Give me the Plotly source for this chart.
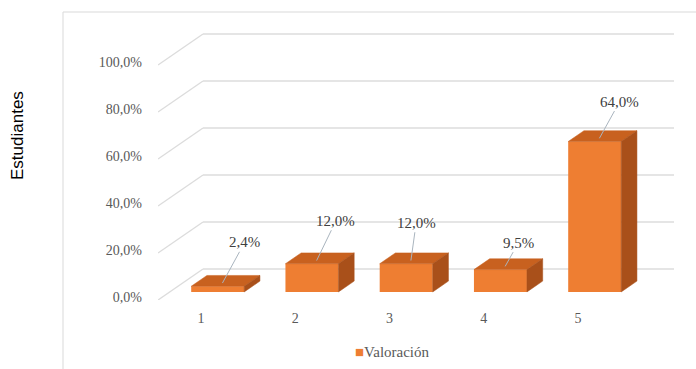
import plotly.graph_objects as go

# ---- data ----
categories = ["1", "2", "3", "4", "5"]
valoracion = [0.024, 0.12, 0.12, 0.095, 0.64]
value_labels = ["2,4%", "12,0%", "12,0%", "9,5%", "64,0%"]
y_ticks = [0.0, 0.2, 0.4, 0.6, 0.8, 1.0]
y_tick_labels = ["0,0%", "20,0%", "40,0%", "60,0%", "80,0%", "100,0%"]
series_name = "Valoración"

# ---- page / plot geometry (pixels) ----
W, H = 696, 369
M_L, M_R, M_T, M_B = 158, 22, 33, 69
PLOT_W = W - M_L - M_R
PLOT_H = H - M_T - M_B
PX_PER_CAT = 94.25          # horizontal distance between categories
PX_PER_UNIT = 235.0         # vertical pixels for 100 %
FIRST_CAT_PX = 206          # centre of category 1 on the front wall plane

X_MIN = 1 - (FIRST_CAT_PX - M_L) / PX_PER_CAT
X_MAX = X_MIN + PLOT_W / PX_PER_CAT
Y_MAX = PLOT_H / PX_PER_UNIT


def dx(px):
    return px / PX_PER_CAT


def dy(px):
    return px / PX_PER_UNIT


def px_x(px):
    return (px - M_L) / PLOT_W


def px_y(py):
    return (H - M_B - py) / PLOT_H


# oblique 3D projection: full depth of the walls
WALL_DX, WALL_DY = dx(45), dy(31)
BAR_D0, BAR_D1 = 0.26, 0.61        # depth span occupied by the bars
BAR_W = dx(53)

FRONT = "#EE7E32"
TOP = "#C8611F"
SIDE = "#A9501A"
GRID = "#DCDCDC"
SERIF = "Liberation Serif"

shapes = []

# back wall and side wall grid lines
for v in y_ticks:
    bx, by = X_MIN + WALL_DX, v + WALL_DY
    shapes.append(dict(type="line", xref="x", yref="y", x0=X_MIN, y0=v, x1=bx, y1=by,
                       line=dict(color=GRID, width=1.4), layer="below"))
    shapes.append(dict(type="line", xref="x", yref="y", x0=bx, y0=by, x1=X_MAX, y1=by,
                       line=dict(color=GRID, width=1.4), layer="below"))

# top and side faces of each bar
ddx = (BAR_D1 - BAR_D0) * WALL_DX
ddy = (BAR_D1 - BAR_D0) * WALL_DY
base = BAR_D0 * WALL_DY
for i, v in enumerate(valoracion):
    xc = i + 1
    xl = xc - BAR_W / 2 + BAR_D0 * WALL_DX
    xr = xl + BAR_W
    top = base + v
    shapes.append(dict(
        type="path", xref="x", yref="y", layer="above",
        path=f"M{xl},{top} L{xr},{top} L{xr + ddx},{top + ddy} L{xl + ddx},{top + ddy} Z",
        fillcolor=TOP, line=dict(color=TOP, width=0.5)))
    shapes.append(dict(
        type="path", xref="x", yref="y", layer="above",
        path=f"M{xr},{base} L{xr},{top} L{xr + ddx},{top + ddy} L{xr + ddx},{base + ddy} Z",
        fillcolor=SIDE, line=dict(color=SIDE, width=0.5)))

# outer chart border
shapes.append(dict(type="rect", xref="paper", yref="paper",
                   x0=px_x(63), x1=px_x(705), y0=px_y(380), y1=px_y(12),
                   line=dict(color="#D9D9D9", width=1), fillcolor="rgba(0,0,0,0)"))

fig = go.Figure()
fig.add_trace(go.Bar(
    x=[i + 1 for i in range(len(categories))],
    y=valoracion,
    base=base,
    width=BAR_W,
    offset=-BAR_W / 2 + BAR_D0 * WALL_DX,
    marker=dict(color=FRONT, line=dict(width=0)),
    name=series_name,
    showlegend=False,
    hoverinfo="skip",
))

# value labels with leader lines
label_offsets = [(27, -44), (24, -43), (10, -41), (18, -27), (25, -40)]
annotations = []
for i, (v, txt) in enumerate(zip(valoracion, value_labels)):
    xc = i + 1 + BAR_D0 * WALL_DX
    top = base + v
    ox, oy = label_offsets[i]
    annotations.append(dict(
        x=xc + 0.3 * ddx, y=top + 0.3 * ddy, xref="x", yref="y",
        ax=xc + dx(ox), ay=top + dy(-oy), axref="x", ayref="y",
        text=txt, showarrow=True, arrowhead=0, arrowwidth=1,
        arrowcolor="#A9B4BE", standoff=0,
        font=dict(family=SERIF, size=15, color="#404040"),
    ))

# legend entry
annotations.append(dict(
    x=px_x(392), y=px_y(352), xref="paper", yref="paper",
    xanchor="center", yanchor="middle",
    text=f"<span style='color:{FRONT}'>■</span>{series_name}",
    showarrow=False, font=dict(family=SERIF, size=15, color="#595959"),
))

# vertical axis title
annotations.append(dict(
    x=px_x(17), y=px_y(136), xref="paper", yref="paper",
    xanchor="center", yanchor="middle",
    text="Estudiantes", textangle=-90, showarrow=False,
    font=dict(family="Liberation Sans", size=17, color="#000000"),
))

fig.update_layout(
    width=W, height=H,
    margin=dict(l=M_L, r=M_R, t=M_T, b=M_B, pad=0),
    paper_bgcolor="white", plot_bgcolor="white",
    shapes=shapes, annotations=annotations,
    showlegend=False,
    xaxis=dict(range=[X_MIN, X_MAX], tickmode="array",
               tickvals=[i + 1 for i in range(len(categories))], ticktext=categories,
               showgrid=False, zeroline=False, showline=False, ticks="",
               ticklabelshift=-5, ticklabelstandoff=8,
               tickfont=dict(family=SERIF, size=14, color="#595959")),
    yaxis=dict(range=[0, Y_MAX], tickmode="array", tickvals=y_ticks, ticktext=y_tick_labels,
               showgrid=False, zeroline=False, showline=False, ticks="",
               ticklabelstandoff=15, ticklabelshift=-3,
               tickfont=dict(family=SERIF, size=14, color="#595959")),
)

fig.write_html("out.html")
